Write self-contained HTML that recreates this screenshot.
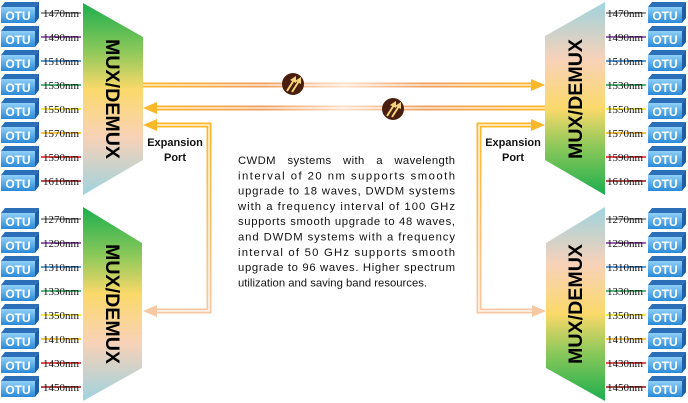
<!DOCTYPE html>
<html><head><meta charset="utf-8"><style>
html,body{margin:0;padding:0;background:#fff;width:688px;height:403px;overflow:hidden}
svg{display:block}
.nm{font-family:"Liberation Serif",serif;font-size:11px;fill:#111}
.otu{font-family:"Liberation Sans",sans-serif;font-size:12px;fill:#fff;font-weight:bold}
.mux{font-family:"Liberation Sans",sans-serif;font-size:19px;font-weight:bold;fill:#000}
.ep{font-family:"Liberation Sans",sans-serif;font-size:11px;font-weight:bold;fill:#111}
.tx{font-family:"Liberation Sans",sans-serif;font-size:11.3px;fill:#111}
</style></head><body>
<svg width="688" height="403" viewBox="0 0 688 403" xmlns="http://www.w3.org/2000/svg">
<defs>
<linearGradient id="gL" x1="0" y1="0" x2="0" y2="1">
<stop offset="0" stop-color="#1cae4e"/><stop offset="0.25" stop-color="#8cc85a"/><stop offset="0.45" stop-color="#fbd96a"/><stop offset="0.7" stop-color="#f8d2b8"/><stop offset="1" stop-color="#9fd3de"/></linearGradient>
<linearGradient id="gR" x1="0" y1="1" x2="0" y2="0">
<stop offset="0" stop-color="#1cae4e"/><stop offset="0.25" stop-color="#8cc85a"/><stop offset="0.45" stop-color="#fbd96a"/><stop offset="0.7" stop-color="#f8d2b8"/><stop offset="1" stop-color="#9fd3de"/></linearGradient>
<linearGradient id="gO" x1="0" y1="0" x2="0" y2="1">
<stop offset="0" stop-color="#8fd0f8"/><stop offset="1" stop-color="#2a8ad8"/></linearGradient>
<linearGradient id="gH" gradientUnits="userSpaceOnUse" x1="143" y1="0" x2="545" y2="0">
<stop offset="0" stop-color="#fbb829"/><stop offset="0.3" stop-color="#f0a060"/><stop offset="0.5" stop-color="#fde0c8"/><stop offset="0.7" stop-color="#f0a060"/><stop offset="1" stop-color="#fbb829"/></linearGradient>
<linearGradient id="gV" gradientUnits="userSpaceOnUse" x1="0" y1="125" x2="0" y2="311">
<stop offset="0" stop-color="#fbb829"/><stop offset="1" stop-color="#f7c8a4"/></linearGradient>
<g id="box">
<polygon points="1,7 5,2 39,2 35,7" fill="#2a6fb8"/>
<polygon points="35,7 39,2 39,18 35,23" fill="#1e5fa8"/>
<rect x="1" y="7" width="34" height="16" fill="url(#gO)"/>
</g>
</defs>

<polygon points="83,3 143,37 143,160 83,195" fill="url(#gL)"/>
<polygon points="83,207 142,243 142,368 83,401" fill="url(#gL)"/>
<polygon points="605,2 545,36 545,160 605,195" fill="url(#gR)"/>
<polygon points="605,207 546,243 546,368 605,401" fill="url(#gR)"/>
<text class="mux" transform="translate(106,99) rotate(90)" text-anchor="middle" textLength="120" lengthAdjust="spacingAndGlyphs">MUX/DEMUX</text>
<text class="mux" transform="translate(106,304) rotate(90)" text-anchor="middle" textLength="120" lengthAdjust="spacingAndGlyphs">MUX/DEMUX</text>
<text class="mux" transform="translate(582,99) rotate(-90)" text-anchor="middle" textLength="120" lengthAdjust="spacingAndGlyphs">MUX/DEMUX</text>
<text class="mux" transform="translate(582,304) rotate(-90)" text-anchor="middle" textLength="120" lengthAdjust="spacingAndGlyphs">MUX/DEMUX</text>

<g>
<use href="#box" y="0"/><use href="#box" y="24"/><use href="#box" y="48"/><use href="#box" y="72"/>
<use href="#box" y="96"/><use href="#box" y="120"/><use href="#box" y="144"/><use href="#box" y="168"/>
<use href="#box" y="206"/><use href="#box" y="230"/><use href="#box" y="254"/><use href="#box" y="278"/>
<use href="#box" y="302"/><use href="#box" y="326"/><use href="#box" y="350"/><use href="#box" y="374"/>
</g>
<g transform="translate(647,0)">
<use href="#box" y="0"/><use href="#box" y="24"/><use href="#box" y="48"/><use href="#box" y="72"/>
<use href="#box" y="96"/><use href="#box" y="120"/><use href="#box" y="144"/><use href="#box" y="168"/>
<use href="#box" y="206"/><use href="#box" y="230"/><use href="#box" y="254"/><use href="#box" y="278"/>
<use href="#box" y="302"/><use href="#box" y="326"/><use href="#box" y="350"/><use href="#box" y="374"/>
</g>
<g class="otu" text-anchor="middle">
<text x="18" y="20">OTU</text><text x="18" y="44">OTU</text><text x="18" y="68">OTU</text><text x="18" y="92">OTU</text>
<text x="18" y="116">OTU</text><text x="18" y="140">OTU</text><text x="18" y="164">OTU</text><text x="18" y="188">OTU</text>
<text x="18" y="226">OTU</text><text x="18" y="250">OTU</text><text x="18" y="274">OTU</text><text x="18" y="298">OTU</text>
<text x="18" y="322">OTU</text><text x="18" y="346">OTU</text><text x="18" y="370">OTU</text><text x="18" y="394">OTU</text>
<text x="665" y="20">OTU</text><text x="665" y="44">OTU</text><text x="665" y="68">OTU</text><text x="665" y="92">OTU</text>
<text x="665" y="116">OTU</text><text x="665" y="140">OTU</text><text x="665" y="164">OTU</text><text x="665" y="188">OTU</text>
<text x="665" y="226">OTU</text><text x="665" y="250">OTU</text><text x="665" y="274">OTU</text><text x="665" y="298">OTU</text>
<text x="665" y="322">OTU</text><text x="665" y="346">OTU</text><text x="665" y="370">OTU</text><text x="665" y="394">OTU</text>
</g>

<g stroke-width="1.5">
<line x1="41" y1="13" x2="81" y2="13" stroke="#777"/><line x1="41" y1="37" x2="81" y2="37" stroke="#7a2a9a"/>
<line x1="41" y1="61" x2="81" y2="61" stroke="#1f78c8"/><line x1="41" y1="85" x2="81" y2="85" stroke="#1aa050"/>
<line x1="41" y1="109" x2="81" y2="109" stroke="#f0e000"/><line x1="41" y1="133" x2="81" y2="133" stroke="#f0b000"/>
<line x1="41" y1="157" x2="81" y2="157" stroke="#e01010"/><line x1="41" y1="181" x2="81" y2="181" stroke="#a01010"/>
<line x1="41" y1="219" x2="81" y2="219" stroke="#777"/><line x1="41" y1="243" x2="81" y2="243" stroke="#7a2a9a"/>
<line x1="41" y1="267" x2="81" y2="267" stroke="#1f78c8"/><line x1="41" y1="291" x2="81" y2="291" stroke="#1aa050"/>
<line x1="41" y1="315" x2="81" y2="315" stroke="#f0e000"/><line x1="41" y1="339" x2="81" y2="339" stroke="#f0b000"/>
<line x1="41" y1="363" x2="81" y2="363" stroke="#e01010"/><line x1="41" y1="387" x2="81" y2="387" stroke="#a01010"/>
<line x1="606" y1="13" x2="646" y2="13" stroke="#777"/><line x1="606" y1="37" x2="646" y2="37" stroke="#7a2a9a"/>
<line x1="606" y1="61" x2="646" y2="61" stroke="#1f78c8"/><line x1="606" y1="85" x2="646" y2="85" stroke="#1aa050"/>
<line x1="606" y1="109" x2="646" y2="109" stroke="#f0e000"/><line x1="606" y1="133" x2="646" y2="133" stroke="#f0b000"/>
<line x1="606" y1="157" x2="646" y2="157" stroke="#e01010"/><line x1="606" y1="181" x2="646" y2="181" stroke="#a01010"/>
<line x1="606" y1="219" x2="646" y2="219" stroke="#777"/><line x1="606" y1="243" x2="646" y2="243" stroke="#7a2a9a"/>
<line x1="606" y1="267" x2="646" y2="267" stroke="#1f78c8"/><line x1="606" y1="291" x2="646" y2="291" stroke="#1aa050"/>
<line x1="606" y1="315" x2="646" y2="315" stroke="#f0e000"/><line x1="606" y1="339" x2="646" y2="339" stroke="#f0b000"/>
<line x1="606" y1="363" x2="646" y2="363" stroke="#e01010"/><line x1="606" y1="387" x2="646" y2="387" stroke="#a01010"/>
</g>
<g class="nm">
<text x="43" y="17">1470nm</text><text x="43" y="41">1490nm</text><text x="43" y="65">1510nm</text><text x="43" y="89">1530nm</text>
<text x="43" y="113">1550nm</text><text x="43" y="137">1570nm</text><text x="43" y="161">1590nm</text><text x="43" y="185">1610nm</text>
<text x="43" y="223">1270nm</text><text x="43" y="247">1290nm</text><text x="43" y="271">1310nm</text><text x="43" y="295">1330nm</text>
<text x="43" y="319">1350nm</text><text x="43" y="343">1410nm</text><text x="43" y="367">1430nm</text><text x="43" y="391">1450nm</text>
<text x="607" y="17">1470nm</text><text x="607" y="41">1490nm</text><text x="607" y="65">1510nm</text><text x="607" y="89">1530nm</text>
<text x="607" y="113">1550nm</text><text x="607" y="137">1570nm</text><text x="607" y="161">1590nm</text><text x="607" y="185">1610nm</text>
<text x="607" y="223">1270nm</text><text x="607" y="247">1290nm</text><text x="607" y="271">1310nm</text><text x="607" y="295">1330nm</text>
<text x="607" y="319">1350nm</text><text x="607" y="343">1410nm</text><text x="607" y="367">1430nm</text><text x="607" y="391">1450nm</text>
</g>

<line x1="143" y1="85" x2="533" y2="85" stroke="url(#gH)" stroke-width="5"/>
<line x1="143" y1="85" x2="533" y2="85" stroke="#fff" stroke-width="1.2" opacity="0.9"/>
<polygon points="545,85 531,79 531,91" fill="#fbb829"/>
<line x1="155" y1="108" x2="545" y2="108" stroke="url(#gH)" stroke-width="5"/>
<line x1="155" y1="108" x2="545" y2="108" stroke="#fff" stroke-width="1.2" opacity="0.9"/>
<polygon points="143,108 157,102 157,114" fill="#fbb829"/>

<g fill="none">
<polyline points="155,125 209,125 209,311 155,311" stroke="url(#gV)" stroke-width="5"/>
<polyline points="155,125 209,125 209,311 155,311" stroke="#fff" stroke-width="1.3"/>
<polyline points="533,125 479,125 479,311 533,311" stroke="url(#gV)" stroke-width="5"/>
<polyline points="533,125 479,125 479,311 533,311" stroke="#fff" stroke-width="1.3"/>
</g>
<polygon points="143,125 157,119 157,131" fill="#fbb829"/>
<polygon points="143,311 157,305 157,317" fill="#f7c8a4"/>
<polygon points="545,125 531,119 531,131" fill="#fbb829"/>
<polygon points="546,311 532,305 532,317" fill="#f7c8a4"/>

<g>
<circle cx="293" cy="84" r="11" fill="#4a1e0e"/>
<g stroke="#f4d27a" stroke-width="2">
<line x1="287" y1="91" x2="294" y2="80"/><line x1="292" y1="92" x2="299" y2="81"/>
</g>
<polygon points="290,80 296,76 296,83" fill="#f4d27a"/><polygon points="295,81 301,77 301,84" fill="#f4d27a"/>
<circle cx="393" cy="109" r="11" fill="#4a1e0e"/>
<g stroke="#f4d27a" stroke-width="2">
<line x1="387" y1="116" x2="394" y2="105"/><line x1="392" y1="117" x2="399" y2="106"/>
</g>
<polygon points="390,105 396,101 396,108" fill="#f4d27a"/><polygon points="395,106 401,102 401,109" fill="#f4d27a"/>
</g>

<g class="ep" text-anchor="middle">
<text x="175" y="146">Expansion</text><text x="175" y="161">Port</text>
<text x="513" y="146">Expansion</text><text x="513" y="161">Port</text>
</g>

<g class="tx">
<text x="238" y="164" textLength="217" lengthAdjust="spacing" word-spacing="8">CWDM systems with a wavelength</text>
<text x="238" y="179.3" textLength="217" lengthAdjust="spacing">interval of 20 nm supports smooth</text>
<text x="238" y="194.6" textLength="217" lengthAdjust="spacing">upgrade to 18 waves, DWDM systems</text>
<text x="238" y="209.9" textLength="217" lengthAdjust="spacing">with a frequency interval of 100 GHz</text>
<text x="238" y="225.2" textLength="217" lengthAdjust="spacing">supports smooth upgrade to 48 waves,</text>
<text x="238" y="240.5" textLength="217" lengthAdjust="spacing">and DWDM systems with a frequency</text>
<text x="238" y="255.8" textLength="217" lengthAdjust="spacing">interval of 50 GHz supports smooth</text>
<text x="238" y="271.1" textLength="217" lengthAdjust="spacing">upgrade to 96 waves. Higher spectrum</text>
<text x="238" y="286.4">utilization and saving band resources.</text>
</g>
</svg>
</body></html>
